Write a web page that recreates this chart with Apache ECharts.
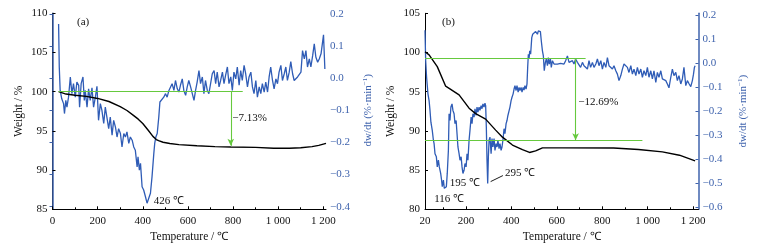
<!DOCTYPE html>
<html><head><meta charset="utf-8">
<script src="https://cdn.jsdelivr.net/npm/echarts@6/dist/echarts.min.js"></script>
<style>html,body{margin:0;padding:0;background:#fff}#c{width:760px;height:251px}</style>
</head><body><div id="c"></div>
<script>
// ---------- Panel (a) ----------
const wA_T = [27,60,100,150,200,250,300,330,360,380,400,425,445,460,470,490,520,560,640,720,790,900,980,1050,1100,1150,1180,1212];
const wA_W = [100.0,99.7,99.55,99.4,99.14,98.75,98.1,97.6,96.95,96.5,95.95,95.05,94.3,93.9,93.75,93.55,93.4,93.25,93.1,93.0,92.95,92.9,92.78,92.78,92.85,93.0,93.15,93.4];
const dA_T = [27,30,34,41,49,53,59,64,71,79,
 86,93,101,108,116,120,127,135,141,145,
 153,160,167,175,182,190,197,204,212,219,
 227,234,241,249,256,264,271,279,286,293,
 301,308,316,323,330,338,345,353,360,367,
 375,379,385,390,397,404,412,419,427,434,
 441,449,453,458,464,471,476,481,493,501,
 508,516,523,530,538,545,553,560,567,575,
 582,590,597,604,612,619,627,634,641,649,
 656,664,671,678,686,693,701,708,716,723,
 730,738,745,753,760,767,775,782,790,797,
 804,812,819,827,834,841,849,856,864,871,
 879,886,893,901,908,916,923,930,938,945,
 953,960,967,975,982,990,997,1004,1012,1019,
 1027,1034,1041,1049,1056,1064,1071,1079,1086,1093,
 1101,1108,1116,1123,1130,1138,1145,1153,1160,1167,
 1175,1182,1190,1197,1201,1207];
const dA_V = [0.169,0.035,-0.038,-0.064,-0.079,-0.110,-0.069,-0.090,-0.059,0.004,
 -0.048,-0.017,-0.059,-0.012,-0.022,-0.090,-0.017,0.004,-0.069,-0.038,
 -0.090,-0.033,-0.069,-0.030,-0.090,-0.059,-0.025,-0.131,-0.079,-0.100,
 -0.141,-0.090,-0.121,-0.157,-0.121,-0.177,-0.131,-0.152,-0.183,-0.157,
 -0.172,-0.214,-0.172,-0.183,-0.167,-0.203,-0.183,-0.193,-0.214,-0.224,
 -0.276,-0.245,-0.286,-0.265,-0.338,-0.348,-0.369,-0.389,-0.395,-0.358,
 -0.307,-0.234,-0.203,-0.183,-0.172,-0.121,-0.074,-0.069,-0.059,-0.048,
 -0.059,-0.038,-0.043,-0.017,-0.038,-0.007,-0.033,-0.043,-0.022,-0.002,
 -0.038,-0.053,-0.027,-0.007,-0.027,-0.033,-0.069,-0.038,-0.012,0.024,
 -0.017,0.004,-0.048,-0.007,-0.038,-0.048,-0.048,0.014,0.024,-0.017,
 0.019,-0.027,-0.007,0.019,-0.017,0.009,0.035,-0.017,0.004,-0.038,
 0.019,-0.002,0.035,-0.022,0.024,-0.007,0.040,0.014,-0.027,0.004,
 0.019,-0.027,-0.048,-0.007,-0.059,-0.027,-0.048,-0.017,-0.043,-0.012,
 -0.043,0.004,0.035,-0.007,-0.033,-0.002,-0.017,0.019,0.040,-0.007,
 0.014,0.035,-0.007,0.019,0.052,0.014,-0.007,-0.002,0.004,-0.002,
 0.019,0.086,0.060,0.086,0.035,0.060,0.035,0.071,0.107,0.066,
 0.050,0.060,0.076,0.081,0.135,0.029];

// ---------- Panel (b) ----------
const wB_T = [20,38,74,111,133,170,214,243,287,331,361,405,449,480,507,537,625,850,960,1065,1140,1209];
const wB_W = [100.1,99.7,98.2,95.7,95.3,94.6,92.9,92.2,91.5,90.1,89.2,88.2,87.6,87.25,87.45,87.84,87.84,87.82,87.62,87.33,86.9,86.18];
const dB_T = [20,23,27,33,38,42,46,52,57,60,
 64,70,74,79,83,89,93,96,101,105,110,114,118,
 123,126,130,134,139,143,148,152,157,161,165,170,174,179,183,187,192,196,201,205,209,214,218,223,227,231,236,240,245,249,253,258,262,267,271,275,280,284,
 287,290,293,296,299,302,
 306,311,315,319,324,328,333,337,341,346,350,355,359,363,368,372,377,381,385,390,394,399,403,408,412,416,421,425,430,434,438,443,447,452,456,460,465,469,
 472,475,478,481,485,490,494,500,507,515,
 519,523,528,532,537,541,545,550,554,559,563,567,572,576,581,
 588,595,603,610,617,625,632,639,647,654,661,669,676,683,691,698,705,713,720,727,735,742,749,757,764,772,779,786,794,801,808,816,823,830,838,845,852,860,867,874,882,889,896,904,911,918,926,933,940,948,955,962,970,977,984,992,999,1006,1014,1021,1028,1036,1043,1050,1058,1065,1072,1080,1087,1094,1102,1109,1116,1124,1131,1138,1146,1153,1160,1168,1175,1183,1190,1197,
 1202,1206,1209];
const dB_V = [0.137,0.010,-0.059,-0.128,-0.156,-0.197,-0.246,-0.280,-0.321,-0.335,
 -0.377,-0.390,-0.432,-0.404,-0.432,-0.459,-0.487,-0.514,-0.487,-0.521,
 -0.528,-0.514,-0.459,-0.363,-0.211,-0.239,-0.183,-0.170,-0.197,-0.211,
 -0.252,-0.239,-0.294,-0.349,-0.377,-0.404,-0.390,-0.432,-0.459,-0.446,
 -0.418,-0.432,-0.377,-0.404,-0.321,-0.280,-0.225,-0.252,-0.211,-0.225,
 -0.190,-0.218,-0.183,-0.204,-0.183,-0.197,-0.177,-0.190,-0.170,-0.183,
 -0.167,-0.177,-0.266,-0.404,-0.501,-0.390,-0.321,-0.308,-0.377,-0.314,
 -0.349,-0.314,-0.363,-0.335,-0.349,-0.321,-0.356,-0.335,-0.363,-0.349,
 -0.321,-0.273,-0.294,-0.252,-0.239,-0.218,-0.211,-0.183,-0.156,-0.142,
 -0.128,-0.108,-0.094,-0.114,-0.094,-0.121,-0.101,-0.114,-0.101,-0.121,
 -0.101,-0.112,-0.094,-0.108,-0.087,-0.018,0.037,0.017,0.051,0.037,
 0.106,0.120,0.127,0.131,0.120,0.134,0.127,0.131,0.092,0.051,
 0.030,-0.032,0.003,0.017,-0.011,0.023,-0.004,0.017,-0.018,0.010,
 -0.004,0.003,-0.004,0.003,-0.001,0.003,-0.004,0.010,0.030,0.003,
 -0.004,0.010,-0.004,0.017,0.003,0.010,-0.018,0.003,-0.011,-0.004,
 -0.025,0.010,-0.018,0.003,-0.018,-0.004,0.017,-0.011,0.010,-0.025,
 0.003,-0.018,0.023,-0.011,-0.018,-0.025,-0.011,-0.032,-0.046,-0.073,
 -0.052,-0.025,-0.004,0.003,-0.018,-0.039,-0.011,-0.046,-0.025,-0.052,
 -0.018,-0.046,-0.025,-0.059,-0.032,-0.052,-0.018,-0.059,-0.032,-0.066,
 -0.032,-0.080,-0.039,-0.059,-0.032,-0.066,-0.059,-0.073,-0.087,-0.103,
 -0.059,-0.025,-0.052,-0.039,-0.073,-0.052,-0.087,-0.066,-0.018,-0.094,
 -0.073,-0.087,-0.098,-0.073,-0.046,-0.018,-0.011];

// tick labels
const xLabelsA = [0,200,400,600,800,1000,1200];
const xLabelsB = [20,200,400,600,800,1000,1200];
const xMinor = [100,300,500,700,900,1100];

const FONT = 'Liberation Serif';
const BLUE = '#2f5cb6';
const BLUE_AX = '#3f63ad';
const GREEN = '#66c93e';
const TXT = '#111';

const zip = (a, b) => a.map((v, i) => [v, b[i]]);
const fmtX = v => v >= 1000 ? String(v).replace(/(\d)(\d{3})$/, '$1 $2') : String(v);
const fmtR = v => (v < -1e-9 ? '\u2212' : '') + Math.abs(v).toFixed(1);

function mainX(g, min, max, labels, ticks) {
  return {type: 'value', gridIndex: g, min, max, position: 'bottom',
    axisLine: {show: true, onZero: false, lineStyle: {color: '#000', width: 1}},
    axisTick: {show: true, inside: true, length: 3, customValues: ticks, lineStyle: {color: '#000'}},
    axisLabel: {customValues: labels, formatter: fmtX, fontSize: 11, color: TXT, margin: 6, fontFamily: FONT},
    splitLine: {show: false},
    name: 'Temperature / \u2103', nameLocation: 'middle', nameGap: 22,
    nameTextStyle: {fontSize: 11.5, color: TXT, fontFamily: FONT}};
}
function minorX(g, min, max) {
  return {type: 'value', gridIndex: g, min, max, position: 'bottom',
    axisLine: {show: false}, axisLabel: {show: false}, splitLine: {show: false},
    axisTick: {show: true, inside: true, length: 2, customValues: xMinor, lineStyle: {color: '#000'}}};
}
function hiddenX(g, min, max) {
  return {type: 'value', gridIndex: g, min, max, show: false};
}
function leftY(g, min, max) {
  return {type: 'value', gridIndex: g, min, max, interval: 5, position: 'left',
    axisLine: {show: true, lineStyle: {color: '#000', width: 1}},
    axisTick: {show: true, inside: true, length: 3, lineStyle: {color: '#000'}},
    axisLabel: {fontSize: 11, color: TXT, margin: 5, fontFamily: FONT},
    splitLine: {show: false},
    name: 'Weight / %', nameLocation: 'middle', nameGap: 28, nameRotate: 90,
    nameTextStyle: {fontSize: 11.5, color: TXT, fontFamily: FONT}};
}
function lineY(g) {
  return {type: 'value', gridIndex: g, min: 0, max: 1, position: 'right',
    axisLine: {show: true, lineStyle: {color: BLUE_AX, width: 1.5}},
    axisTick: {show: false}, axisLabel: {show: false}, splitLine: {show: false}};
}
function rightY(g, min, max, gap) {
  return {type: 'value', gridIndex: g, min, max, interval: 0.1, position: 'right',
    axisLine: {show: false},
    axisTick: {show: true, inside: true, length: 3, lineStyle: {color: BLUE_AX}},
    axisLabel: {formatter: fmtR, fontSize: 11, color: BLUE_AX, margin: 4, fontFamily: FONT},
    splitLine: {show: false},
    name: 'dw/dt (%\u00b7min{sup|\u22121})', nameLocation: 'middle', nameGap: gap, nameRotate: 90,
    nameTextStyle: {fontSize: 11, color: BLUE_AX, fontFamily: FONT,
      rich: {sup: {fontSize: 7, color: BLUE_AX, fontFamily: FONT, padding: [0, 0, 6, 0]}}}};
}
function textMark(coord, text, align) {
  return {coord, symbol: 'circle', symbolSize: 0,
    label: {show: true, position: 'inside', formatter: text, align: align, verticalAlign: 'middle',
      color: TXT, fontSize: 11, fontFamily: FONT}};
}
const greenLine = (x1, x2, y) => [{coord: [x1, y]}, {coord: [x2, y]}];
const greenArrow = (x, y1, y2) => [
  {coord: [x, y1], symbol: 'none'},
  {coord: [x, y2], symbol: 'arrow', symbolSize: [5, 7]}];

const option = {
  animation: false,
  textStyle: {fontFamily: FONT},
  title: [
    {text: '(a)', left: 77, top: 17, padding: 0, textStyle: {fontSize: 11, fontWeight: 'normal', color: TXT, fontFamily: FONT}},
    {text: '(b)', left: 442, top: 17, padding: 0, textStyle: {fontSize: 11, fontWeight: 'normal', color: TXT, fontFamily: FONT}}
  ],
  grid: [
    {left: 52.5, top: 13.3, width: 273.5, height: 196},
    {left: 52.5, top: 14, width: 273.5, height: 192.7},
    {left: 425, top: 13.3, width: 273.5, height: 196},
    {left: 425, top: 15, width: 273.5, height: 192.3}
  ],
  xAxis: [
    mainX(0, 0, 1212, xLabelsA, xLabelsA),
    minorX(0, 0, 1212),
    hiddenX(1, 0, 1212),
    mainX(2, 20, 1224, xLabelsB, xLabelsB),
    minorX(2, 20, 1224),
    hiddenX(3, 20, 1224)
  ],
  yAxis: [
    leftY(0, 85, 110),
    lineY(0),
    rightY(1, -0.4, 0.2, 36),
    leftY(2, 80, 105),
    lineY(2),
    rightY(3, -0.6, 0.2, 38)
  ],
  series: [
    {type: 'line', xAxisIndex: 2, yAxisIndex: 2, data: zip(dA_T, dA_V), showSymbol: false,
      lineStyle: {color: BLUE, width: 1.3}, itemStyle: {color: BLUE},
      markPoint: {silent: true, data: [textMark([449, -0.383], '426 \u2103', 'left')]}},
    {type: 'line', xAxisIndex: 0, yAxisIndex: 0, data: zip(wA_T, wA_W), showSymbol: false,
      lineStyle: {color: '#000', width: 1.4}, itemStyle: {color: '#000'},
      markLine: {silent: true, symbol: ['none', 'none'], label: {show: false},
        lineStyle: {color: GREEN, width: 1.1, type: 'solid'},
        data: [greenLine(27, 843, 100), greenArrow(790, 100, 93.1)]},
      markPoint: {silent: true, data: [textMark([797, 96.6], '\u22127.13%', 'left')]}},
    {type: 'line', xAxisIndex: 5, yAxisIndex: 5, data: zip(dB_T, dB_V), showSymbol: false,
      lineStyle: {color: BLUE, width: 1.3}, itemStyle: {color: BLUE},
      markLine: {silent: true, symbol: ['none', 'none'], label: {show: false},
        lineStyle: {color: '#000', width: 0.9, type: 'solid'},
        data: [[{coord: [309, -0.493]}, {coord: [363, -0.468]}]]},
      markPoint: {silent: true, data: [
        textMark([126, -0.567], '116 \u2103', 'center'),
        textMark([196, -0.5], '195 \u2103', 'center'),
        textMark([372, -0.458], '295 \u2103', 'left')]}},
    {type: 'line', xAxisIndex: 3, yAxisIndex: 3, data: zip(wB_T, wB_W), showSymbol: false,
      lineStyle: {color: '#000', width: 1.4}, itemStyle: {color: '#000'},
      markLine: {silent: true, symbol: ['none', 'none'], label: {show: false},
        lineStyle: {color: GREEN, width: 1.1, type: 'solid'},
        data: [greenLine(20, 727, 99.25), greenLine(20, 977, 88.82), greenArrow(683, 99.25, 88.82)]},
      markPoint: {silent: true, data: [textMark([695, 93.7], '\u221212.69%', 'left')]}}
  ]
};
const chart = echarts.init(document.getElementById('c'), null, {renderer: 'canvas'});
chart.setOption(option);
</script>
</body></html>
